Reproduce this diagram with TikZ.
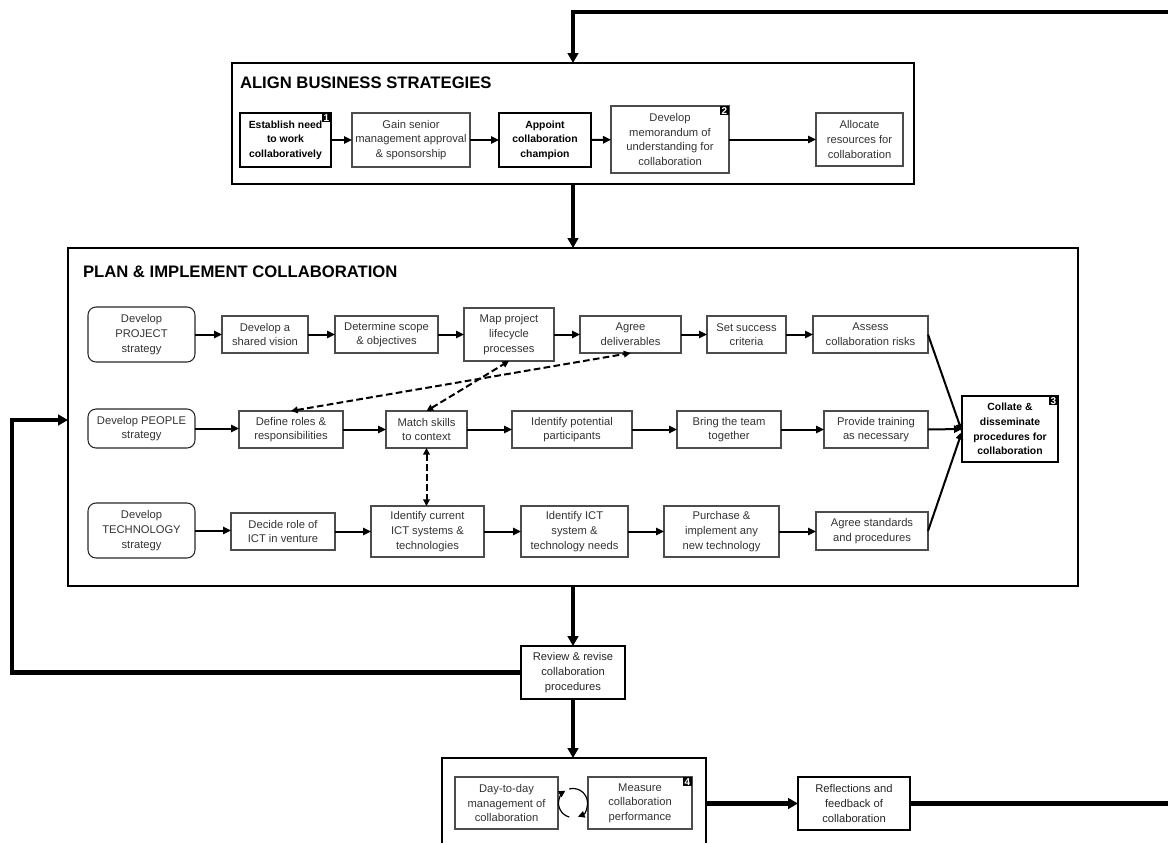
\documentclass[tikz,border=0pt]{standalone}
\usepackage{fontspec}
\setmainfont{Liberation Sans}
\usetikzlibrary{arrows.meta,calc}
\newcommand\sz{\fontsize{8.4}{11}\selectfont}
\newcommand\szb{\fontsize{7.8}{11}\selectfont}
\newcommand\pbox[7]{\node[#6, minimum width={(#4-#2)*0.75pt}, minimum height={(#5-#3)*0.75pt}] (#1) at ({(#2+#4)/2},{(#3+#5)/2}) {#7};}
\newcommand\badge[2]{\node[badgestyle, anchor=north east] at (#1.north east) {#2};}
\begin{document}
\begin{tikzpicture}[x=0.75pt,y=-0.75pt,
  every node/.style={inner sep=0pt, outer sep=0pt, align=center},
  tbox/.style={draw=black!70, line width=0.8pt, text=black!80, font=\sz},
  bbox/.style={draw=black, line width=1.5pt, text=black, font=\szb\bfseries},
  rbox/.style={tbox, rounded corners=6pt, draw=black!85},
  frame/.style={draw=black, line width=2.2pt},
  mbox/.style={draw=black, line width=1.5pt, text=black!85, font=\sz},
  cbox/.style={draw=black, line width=1.2pt, text=black, font=\szb\bfseries},
  badgestyle/.style={fill=black, text=white, font=\fontsize{7.5}{7.5}\selectfont\bfseries, minimum size=7pt},
  flow/.style={line width=1.5pt, -{Triangle[length=6pt,width=5.5pt]}},
  big/.style={line width=3.2pt, -{Triangle[length=7.5pt,width=8pt]}},
  bigline/.style={line width=3.2pt},
  dbl/.style={line width=1.5pt, dash pattern=on 5pt off 2.5pt, {Triangle[length=5pt,width=5pt]}-{Triangle[length=5pt,width=5pt]}},
  cyc/.style={line width=0.9pt, -{Triangle[length=5pt,width=5pt]}},
  title/.style={font=\fontsize{12.5}{14}\selectfont\bfseries, anchor=west},
]
\useasboundingbox (0,0) rectangle (1168,843);

% ---------- ALIGN BUSINESS STRATEGIES ----------
\pbox{align}{232}{63}{914}{184}{frame}{}
\node[title] (t1) at (240,83) {ALIGN BUSINESS STRATEGIES};
\pbox{est}{240}{113}{331}{167}{bbox}{Establish need\\to work\\collaboratively}
\badge{est}{1}
\pbox{gain}{352}{113}{470}{167}{tbox}{Gain senior\\management approval\\\& sponsorship}
\pbox{app}{499}{113}{591}{167}{bbox}{Appoint\\collaboration\\champion}
\pbox{mou}{611}{106}{729}{173}{tbox}{Develop\\memorandum of\\understanding for\\collaboration}
\badge{mou}{2}
\pbox{alloc}{816}{113}{903}{166}{tbox}{Allocate\\resources for\\collaboration}
\draw[flow] (est) -- (gain);
\draw[flow] (gain) -- (app);
\draw[flow] (app) -- (mou);
\draw[flow] (mou.east) -- (alloc.west);

% ---------- PLAN & IMPLEMENT ----------
\pbox{plan}{68}{248}{1078}{586}{frame}{}
\node[title] (t2) at (83,272) {PLAN \& IMPLEMENT COLLABORATION};

\pbox{proj}{88}{307}{195}{362}{rbox}{Develop\\PROJECT\\strategy}
\pbox{vis}{222}{316}{308}{353}{tbox}{Develop a\\shared vision}
\pbox{scope}{335}{316}{438}{353}{tbox}{Determine scope\\\& objectives}
\pbox{map}{464}{308}{554}{361}{tbox}{Map project\\lifecycle\\processes}
\pbox{deliv}{580}{316}{681}{353}{tbox}{Agree\\deliverables}
\pbox{succ}{707}{316}{786}{353}{tbox}{Set success\\criteria}
\pbox{risk}{813}{316}{928}{353}{tbox}{Assess\\collaboration risks}

\pbox{peop}{88}{409}{195}{448}{rbox}{Develop PEOPLE\\strategy}
\pbox{roles}{239}{411}{343}{448}{tbox}{Define roles \&\\responsibilities}
\pbox{match}{386}{411}{467}{448}{tbox}{Match skills\\to context}
\pbox{part}{512}{411}{632}{448}{tbox}{Identify potential\\participants}
\pbox{team}{677}{411}{781}{448}{tbox}{Bring the team\\together}
\pbox{train}{824}{411}{928}{448}{tbox}{Provide training\\as necessary}

\pbox{tech}{88}{503}{195}{558}{rbox}{Develop\\TECHNOLOGY\\strategy}
\pbox{ict}{231}{513}{335}{550}{tbox}{Decide role of\\ICT in venture}
\pbox{cur}{371}{506}{484}{557}{tbox}{Identify current\\ICT systems \&\\technologies}
\pbox{need}{521}{506}{628}{557}{tbox}{Identify ICT\\system \&\\technology needs}
\pbox{buy}{664}{506}{779}{557}{tbox}{Purchase \&\\implement any\\new technology}
\pbox{std}{816}{512}{928}{550}{tbox}{Agree standards\\and procedures}

\pbox{coll}{962}{396}{1058}{462}{cbox}{Collate \&\\disseminate\\procedures for\\collaboration}
\badge{coll}{3}

\draw[flow] (proj) -- (vis);
\draw[flow] (vis) -- (scope);
\draw[flow] (scope) -- (map);
\draw[flow] (map) -- (deliv);
\draw[flow] (deliv) -- (succ);
\draw[flow] (succ) -- (risk);

\draw[flow] (peop.east) -- (peop.east -| roles.west);
\draw[flow] (roles) -- (match);
\draw[flow] (match) -- (part);
\draw[flow] (part) -- (team);
\draw[flow] (team) -- (train);

\draw[flow] (tech.east) -- (tech.east -| ict.west);
\draw[flow] (ict) -- (cur);
\draw[flow] (cur) -- (need);
\draw[flow] (need) -- (buy);
\draw[flow] (buy.east) -- (buy.east -| std.west);

\draw[flow] (risk.east) -- ([yshift=-2]coll.west);
\draw[flow] (train.east) -- (coll.west);
\draw[flow] (std.east) -- ([yshift=-2]coll.west);

\draw[dbl] (roles.north) -- (deliv.south);
\draw[dbl] (match.north) -- (map.south);
\draw[dbl] (match.south) -- (match.south |- cur.north);

% ---------- review / operate ----------
\pbox{rev}{521}{646}{625}{699}{mbox}{Review \& revise\\collaboration\\procedures}
\coordinate (opsN) at (573,758);
\coordinate (opsE) at (706,803.5);
\draw[frame] (442,843) -- (442,758) -- (706,758) -- (706,843);
\pbox{day}{455}{777}{558}{829}{tbox}{Day-to-day\\management of\\collaboration}
\pbox{meas}{588}{777}{692}{829}{tbox}{Measure\\collaboration\\performance}
\badge{meas}{4}
\coordinate (cc) at (573,803);
\draw[cyc] ($(cc)+(105:14.5)$) arc[start angle=105, end angle=238, radius=14.5];
\draw[cyc] ($(cc)+(-105:14.5)$) arc[start angle=-105, end angle=70, radius=14.5];
\pbox{refl}{798}{777}{910}{830}{mbox}{Reflections and\\feedback of\\collaboration}

% ---------- main thick connectors ----------
\coordinate (tr) at (1168,12);
\coordinate (br) at (1168,803.5);
\coordinate (lf) at (12,420);
\draw[big] (tr) -| (align.north);
\draw[big] (align.south) -- (plan.north);
\draw[big] (plan.south) -- (rev.north);
\draw[big] (rev.south) -- (opsN);
\draw[big] (rev.west) -| (lf) -- (lf -| plan.west);
\draw[big] (opsE) -- (refl.west);
\draw[bigline] (refl.east) -- (br);
\end{tikzpicture}
\end{document}
